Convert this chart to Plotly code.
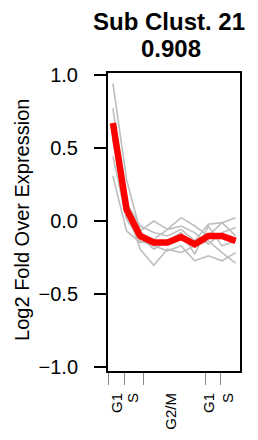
import plotly.graph_objects as go

# ---- data ----
timepoints = [1, 2, 3, 4, 5, 6, 7, 8, 9, 10]
member_profiles = [
    [0.945, 0.286, -0.066, 0.002, -0.055, 0.025, -0.032, -0.100, -0.009, 0.025],
    [0.775, 0.127, -0.032, -0.077, -0.100, -0.055, -0.134, -0.020, -0.009, -0.100],
    [0.673, 0.082, -0.191, -0.300, -0.191, -0.214, -0.168, -0.134, -0.214, -0.286],
    [0.445, 0.014, -0.134, -0.168, -0.202, -0.168, -0.270, -0.236, -0.270, -0.214],
    [0.309, -0.066, -0.145, -0.123, -0.055, -0.032, -0.077, -0.157, -0.077, -0.043],
    [0.559, 0.036, -0.100, -0.191, -0.134, -0.077, -0.225, -0.032, -0.168, -0.134],
]
cluster_mean = [0.673, 0.082, -0.100, -0.145, -0.145, -0.107, -0.157, -0.100, -0.100, -0.134]

phase_tick_positions = [0.71, 1.86, 3.21, 7.82, 8.90]
phase_label_positions = [1.31, 2.45, 5.28, 8.07, 9.43]
phase_labels = ["G1", "S", "G2/M", "G1", "S"]

y_tick_values = [-1.0, -0.5, 0.0, 0.5, 1.0]
y_tick_labels = ["\u22121.0", "\u22120.5", "0.0", "0.5", "1.0"]

title_line1 = "Sub Clust. 21"
title_line2 = "0.908"
y_title = "Log2 Fold Over Expression"

FONT = "Liberation Sans, Arial, sans-serif"

# the page body has an 8px default margin, so the figure is sized to fill
# the remaining visible window area
W, H = 250, 432
L, R, T, B = 100, 18, 65, 69
PW = W - L - R

fig = go.Figure()
for prof in member_profiles:
    fig.add_trace(go.Scatter(x=timepoints, y=prof, mode="lines",
                             line=dict(color="#BEBEBE", width=1.6),
                             showlegend=False, hoverinfo="skip"))
fig.add_trace(go.Scatter(x=timepoints, y=cluster_mean, mode="lines",
                         line=dict(color="#FF0000", width=6.5),
                         showlegend=False))
# invisible trace to activate the label axis
fig.add_trace(go.Scatter(x=[timepoints[0]], y=[cluster_mean[0]], xaxis="x2",
                         mode="markers", marker=dict(opacity=0),
                         showlegend=False, hoverinfo="skip"))

title_font = dict(size=24, family=FONT, color="black")

fig.update_layout(
    width=W, height=H,
    margin=dict(l=L, r=R, t=T, b=B),
    paper_bgcolor="white", plot_bgcolor="white",
    font=dict(family=FONT, color="black"),
    xaxis=dict(range=[0.64, 10.32], showgrid=False, zeroline=False,
               automargin=False,
               showline=True, linecolor="black", linewidth=2, mirror=True,
               tickmode="array", tickvals=phase_tick_positions,
               ticktext=[""] * len(phase_tick_positions),
               ticks="outside", ticklen=12, tickwidth=1, tickcolor="#888888"),
    xaxis2=dict(range=[0.64, 10.32], overlaying="x", side="bottom",
                automargin=False,
                showgrid=False, zeroline=False, showline=False,
                tickmode="array", tickvals=phase_label_positions,
                ticktext=phase_labels, ticks="", tickangle=-90,
                ticklabelstandoff=18,
                tickfont=dict(size=15, family=FONT, color="black")),
    yaxis=dict(range=[-1.025, 1.016], showgrid=False, zeroline=False,
               automargin=False,
               showline=True, linecolor="black", linewidth=2, mirror=True,
               tickmode="array", tickvals=y_tick_values, ticktext=y_tick_labels,
               ticks="outside", ticklen=12, tickwidth=2, tickcolor="black",
               ticklabelstandoff=12,
               tickfont=dict(size=20, family=FONT, color="black")),
    annotations=[
        dict(text=y_title, textangle=-90, xref="paper", yref="paper",
             x=0, y=0.507, xanchor="center", yanchor="middle",
             xshift=-86, showarrow=False,
             font=dict(size=20, family=FONT, color="black")),
        dict(text="<b>" + title_line1 + "</b>", xref="paper", yref="paper",
             x=(161 - L) / PW, y=1, xanchor="center", yanchor="middle",
             yshift=51.5, showarrow=False, font=title_font),
        dict(text="<b>" + title_line2 + "</b>", xref="paper", yref="paper",
             x=(163 - L) / PW, y=1, xanchor="center", yanchor="middle",
             yshift=25, showarrow=False, font=title_font),
    ],
)

fig.write_html("out.html")
